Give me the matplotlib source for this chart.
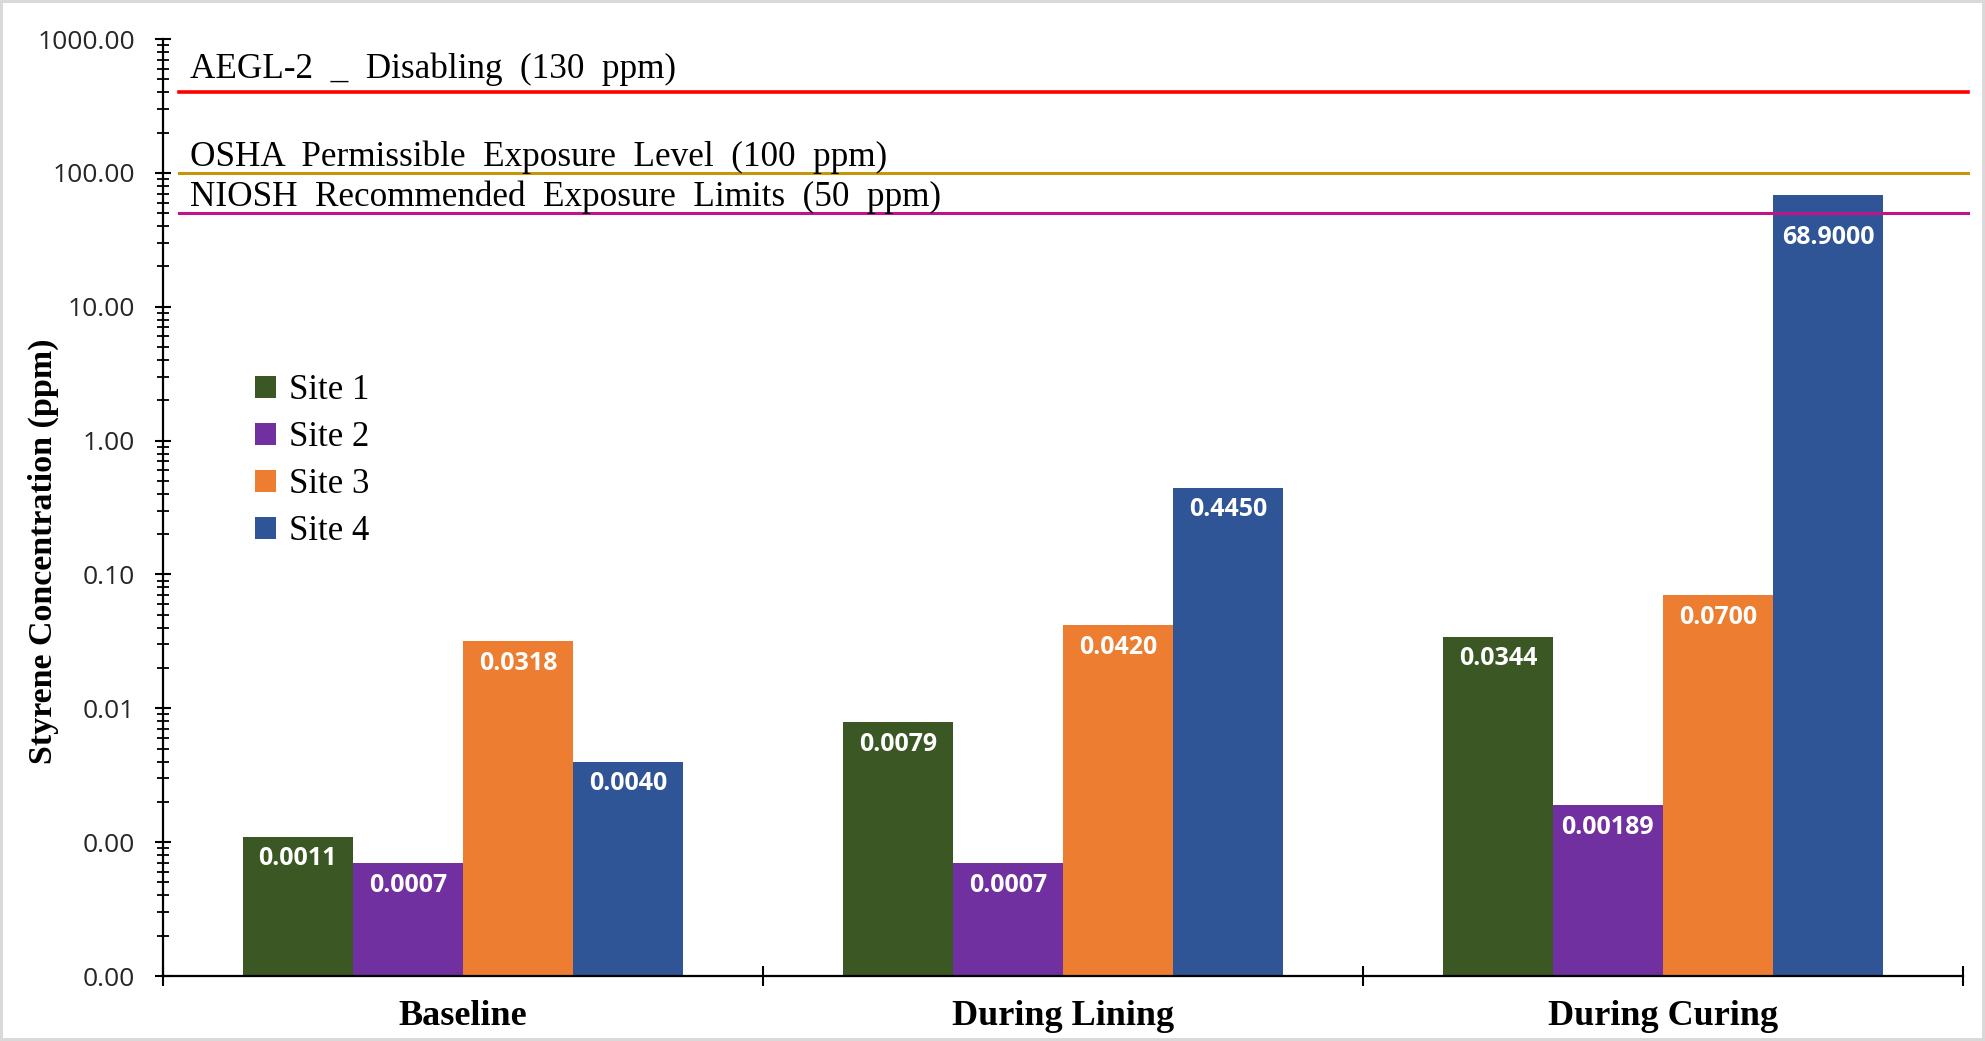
import numpy as np
import matplotlib
matplotlib.use('Agg')
import matplotlib.pyplot as plt
from matplotlib.ticker import FuncFormatter, LogLocator, NullFormatter

# Данные
stages = ['Baseline', 'During Lining', 'During Curing']
sites = ['Site 1', 'Site 2', 'Site 3', 'Site 4']
site_1 = [0.0011, 0.0079, 0.0344]
site_2 = [0.0007, 0.0007, 0.00189]
site_3 = [0.0318, 0.0420, 0.0700]
site_4 = [0.0040, 0.4450, 68.9000]
site_labels = [
    ['0.0011', '0.0079', '0.0344'],
    ['0.0007', '0.0007', '0.00189'],
    ['0.0318', '0.0420', '0.0700'],
    ['0.0040', '0.4450', '68.9000'],
]
site_colors = ['#3A5724', '#7030A0', '#ED7D31', '#2F5597']

limit_names = ['AEGL-2  _  Disabling  (130  ppm)',
               'OSHA  Permissible  Exposure  Level  (100  ppm)',
               'NIOSH  Recommended  Exposure  Limits  (50  ppm)']
limit_levels = [400, 100, 50]
limit_colors = ['#FF0000', '#C5960C', '#C0148C']

y_ticks = [0.0001, 0.001, 0.01, 0.1, 1, 10, 100, 1000]

SERIF = 'Liberation Serif'


def plot_chart():
    fig = plt.figure(figsize=(19.85, 10.41), dpi=100)
    fig.patch.set_edgecolor('#d9d9d9')
    fig.patch.set_linewidth(3)
    ax = fig.add_axes([0.0821, 0.0624, 0.9068, 0.9001])
    ax.set_yscale('log')

    x = np.arange(len(stages))
    width = 0.1835
    series = [site_1, site_2, site_3, site_4]
    for i, vals in enumerate(series):
        pos = x + (i - 1.5) * width
        bars = ax.bar(pos, vals, width, color=site_colors[i], label=sites[i])
        for b, v, txt in zip(bars, vals, site_labels[i]):
            # подпись у столбца над линией NIOSH сдвигаем ниже
            dy = -22 if v > limit_levels[2] else -7
            ax.annotate(txt, (b.get_x() + b.get_width() / 2, v),
                        xytext=(0, dy), textcoords='offset points',
                        ha='center', va='top', color='white',
                        fontsize=18, fontweight='bold', family='Open Sans')

    # Предельные уровни
    for name, lvl, col in zip(limit_names, limit_levels, limit_colors):
        ax.axhline(lvl, xmin=0.009, xmax=1.003, color=col,
                   lw=2.6 if lvl == 400 else 2.2, clip_on=False)
        off = 10 if lvl == 400 else 5
        ax.annotate(name, (0.015, lvl), xycoords=('axes fraction', 'data'),
                    xytext=(0, off), textcoords='offset points',
                    ha='left', va='baseline', fontsize=25.3, family=SERIF)

    ax.set_ylim(1e-4, 1e3)
    ax.set_xlim(-0.5, 2.5)
    ax.set_yticks(y_ticks)
    ax.yaxis.set_major_formatter(FuncFormatter(lambda v, p: f'{v:.2f}'))
    ax.yaxis.set_minor_locator(LogLocator(base=10, subs=np.arange(2, 10)))
    ax.yaxis.set_minor_formatter(NullFormatter())
    ax.tick_params(axis='y', which='major', direction='inout', length=12,
                   width=1.5, pad=14, labelsize=19, labelcolor='#262626')
    ax.tick_params(axis='y', which='minor', direction='inout', length=9,
                   width=1.3)
    for lab in ax.get_yticklabels():
        lab.set_family('Open Sans')

    ax.set_xticks(x)
    ax.set_xticklabels(stages, fontsize=26, fontweight='bold', family=SERIF)
    ax.set_xticks([-0.5, 0.5, 1.5, 2.5], minor=True)
    ax.tick_params(axis='x', which='major', length=0, pad=17)
    ax.tick_params(axis='x', which='minor', direction='inout', length=14,
                   width=1.5)

    for s in ['top', 'right']:
        ax.spines[s].set_visible(False)
    for s in ['left', 'bottom']:
        ax.spines[s].set_linewidth(1.6)
        ax.spines[s].set_color('black')

    ax.set_ylabel('Styrene Concentration (ppm)', fontsize=24.5,
                  fontweight='bold', family=SERIF)
    ax.yaxis.set_label_coords(-0.058, 0.4536)

    ax.legend(loc='upper left', bbox_to_anchor=(0.051, 0.642), frameon=False,
              prop={'family': SERIF, 'size': 25}, handlelength=0.6,
              handleheight=0.6, handletextpad=0.4, labelspacing=0.4,
              borderaxespad=0, borderpad=0)

    fig.savefig('out.png', dpi=100)


if __name__ == "__main__":
    plot_chart()
